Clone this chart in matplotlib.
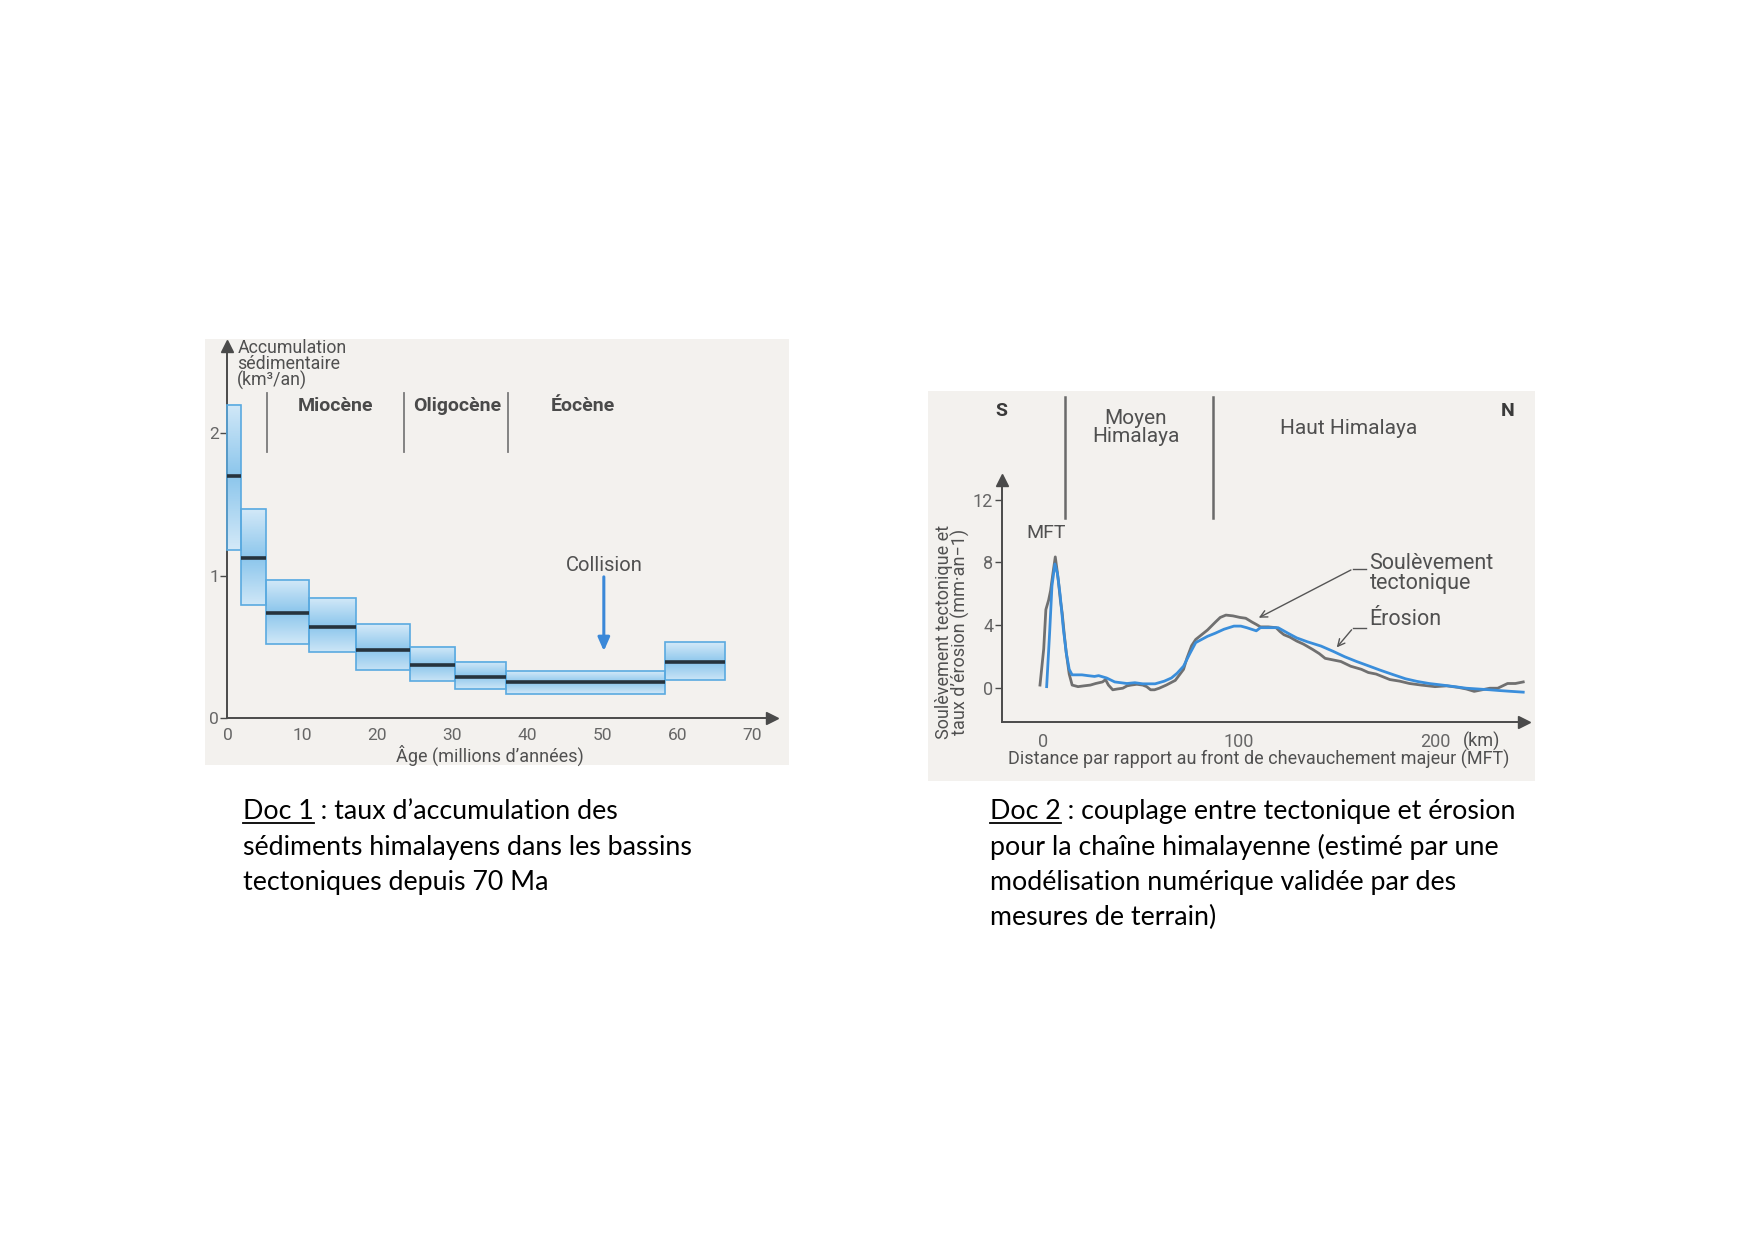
import numpy as np
import matplotlib
matplotlib.use("Agg")
import matplotlib.pyplot as plt
from matplotlib.colors import LinearSegmentedColormap
from matplotlib.lines import Line2D

# ---- Doc 1 : sediment accumulation (Ma, km3/an) ----
age_start = [0.0, 1.8, 5.1, 10.9, 17.1, 24.3, 30.4, 37.2, 58.4]
age_end   = [1.8, 5.1, 10.9, 17.1, 24.3, 30.4, 37.2, 58.4, 66.3]
acc_low   = [1.18, 0.79, 0.52, 0.46, 0.34, 0.26, 0.20, 0.17, 0.27]
acc_mean  = [1.70, 1.12, 0.74, 0.64, 0.48, 0.37, 0.29, 0.25, 0.39]
acc_high  = [2.20, 1.47, 0.97, 0.84, 0.66, 0.50, 0.39, 0.33, 0.53]
epoch_bounds = [5.3, 23.6, 37.4]
epoch_names = ["Miocène", "Oligocène", "Éocène"]
epoch_label_x = [14.4, 30.7, 47.4]
collision_age = 50.2

# ---- Doc 2 : uplift / erosion profile (km, mm/an) ----
uplift_km = [-1.4, 0.5, 1.6, 3.0, 4.0, 5.2, 6.4, 7.2, 8.0, 9.0, 9.9, 11.0, 12.0,
             13.5, 15.0, 18.0, 21.0, 24.3, 27.0, 30.5, 32.0, 33.5, 35.7, 38.0,
             40.8, 43.0, 45.0, 48.0, 51.0, 53.0, 55.0, 57.0, 59.4, 63.0, 67.6,
             71.8, 73.5, 75.9, 78.0, 80.0, 84.0, 88.0, 90.5, 93.4, 97.0, 100.6,
             103.5, 106.8, 109.0, 111.0, 115.0, 119.0, 121.0, 123.0, 126.0, 129.5,
             133.0, 137.7, 141.0, 144.0, 148.0, 152.0, 157.0, 162.5, 166.0, 170.0,
             177.0, 182.0, 187.0, 193.0, 200.0, 206.0, 212.0, 216.0, 220.0, 224.0,
             228.0, 232.0, 237.0, 241.0, 245.0]
uplift_val = [0.2, 2.5, 5.0, 5.6, 6.2, 7.3, 8.35, 7.6, 6.8, 5.6, 4.8, 3.4, 2.25,
              0.9, 0.2, 0.1, 0.15, 0.2, 0.3, 0.4, 0.55, 0.2, -0.1, -0.05,
              0.0, 0.15, 0.2, 0.25, 0.2, 0.1, -0.1, -0.1, 0.0, 0.2, 0.5,
              1.2, 1.9, 2.7, 3.1, 3.3, 3.7, 4.2, 4.5, 4.65, 4.6, 4.5,
              4.45, 4.2, 4.05, 3.9, 3.9, 3.85, 3.6, 3.4, 3.25, 3.0,
              2.8, 2.46, 2.2, 1.9, 1.8, 1.7, 1.4, 1.2, 1.0, 0.9,
              0.55, 0.45, 0.3, 0.2, 0.1, 0.15, 0.05, -0.05, -0.2, -0.1,
              0.0, 0.0, 0.3, 0.3, 0.4]
erosion_km = [2.0, 3.5, 4.7, 6.2, 7.5, 8.9, 10.5, 12.0, 13.5, 15.0, 20.0, 23.0,
              26.4, 28.5, 32.6, 36.7, 42.9, 47.0, 51.0, 57.3, 62.0, 65.6, 68.5,
              71.8, 75.0, 78.0, 84.0, 88.0, 92.4, 97.5, 101.0, 104.0, 108.9,
              111.0, 120.0, 125.0, 129.5, 135.0, 141.9, 148.0, 154.0, 160.0,
              166.6, 172.0, 179.0, 185.0, 191.0, 197.0, 203.7, 210.0, 216.0,
              222.0, 228.0, 233.0, 238.8, 245.0]
erosion_val = [0.1, 3.5, 6.5, 7.9, 7.3, 5.9, 3.8, 2.25, 1.2, 0.85, 0.85, 0.8,
               0.75, 0.8, 0.65, 0.4, 0.3, 0.35, 0.28, 0.28, 0.45, 0.65, 0.95,
               1.4, 2.2, 2.9, 3.3, 3.5, 3.75, 3.95, 3.95, 3.85, 3.65,
               3.85, 3.85, 3.5, 3.2, 2.95, 2.68, 2.35, 2.0, 1.7,
               1.4, 1.15, 0.85, 0.6, 0.43, 0.3, 0.2, 0.1, 0.0,
               -0.05, -0.1, -0.15, -0.2, -0.25]
zone_bounds = [11.5, 86.6]

W, H = 1754, 1240
fig = plt.figure(figsize=(W / 100, H / 100), dpi=100)
fig.patch.set_facecolor("white")

chart_font = ["Roboto", "DejaVu Sans"]
caption_font = ["Lato", "DejaVu Sans"]
panel_bg = "#f3f1ee"
axis_col = "#4a4a4a"
text_col = "#505050"
tick_col = "#666666"

#%% Doc 1 ---------------------------------------------------------------------
ax1 = fig.add_axes([205 / W, 1 - 765 / H, 584 / W, 426 / H])
ax1.set_facecolor(panel_bg)
cmap = LinearSegmentedColormap.from_list("bl", ["#d3e9f8", "#8cc6ec"])
for x0, x1, lo, mu, hi in zip(age_start, age_end, acc_low, acc_mean, acc_high):
    yy = np.linspace(lo, hi, 60)
    half = max(mu - lo, hi - mu)
    grad = 1 - np.abs(yy - mu) / half
    ax1.imshow(grad[:, None], extent=(x0, x1, lo, hi), origin="lower",
               aspect="auto", cmap=cmap, vmin=0, vmax=1, zorder=2)
    ax1.add_patch(plt.Rectangle((x0, lo), x1 - x0, hi - lo, fill=False,
                                edgecolor="#5aaae0", lw=1.2, zorder=3))
    ax1.plot([x0, x1], [mu, mu], color="#26333d", lw=2.6, zorder=4,
             solid_capstyle="butt")

for xb in epoch_bounds:
    ax1.plot([xb, xb], [1.87, 2.28], color="#7a7a7a", lw=1.3)
for name, xl in zip(epoch_names, epoch_label_x):
    ax1.text(xl, 2.19, name, ha="center", va="center", fontsize=14,
             fontweight="bold", color="#4a4a4a", family=chart_font)

ax1.text(collision_age, 1.07, "Collision", ha="center", va="center",
         fontsize=14.5, color=text_col, family=chart_font)
ax1.annotate("", xy=(collision_age, 0.45), xytext=(collision_age, 1.01),
             arrowprops=dict(arrowstyle="-|>,head_width=0.35,head_length=0.8",
                             color="#3a88d8", lw=2.2))

ax1.text(1.3, 2.66, "Accumulation\nsédimentaire\n(km³/an)", ha="left", va="top",
         fontsize=12.8, color=text_col, family=chart_font, linespacing=0.85)
ax1.text(35, -0.26, "Âge (millions d’années)", ha="center", va="center",
         fontsize=13, color=text_col, family=chart_font)

ax1.set_xlim(-3.0, 74.9)
ax1.set_ylim(-0.33, 2.66)
for s in ["top", "right"]:
    ax1.spines[s].set_visible(False)
ax1.spines["left"].set_position(("data", 0))
ax1.spines["bottom"].set_position(("data", 0))
ax1.spines["left"].set_bounds(0, 2.6)
ax1.spines["bottom"].set_bounds(0, 72.5)
for s in ["left", "bottom"]:
    ax1.spines[s].set_color(axis_col)
    ax1.spines[s].set_linewidth(1.4)
ax1.plot([0], [2.61], marker="^", ms=8, color=axis_col, clip_on=False)
ax1.plot([72.6], [0], marker=">", ms=8, color=axis_col, clip_on=False)
ax1.set_xticks(np.arange(0, 71, 10))
ax1.set_yticks([0, 1, 2])
ax1.tick_params(axis="x", length=0, pad=7, labelsize=12.5, labelcolor=tick_col)
ax1.tick_params(axis="y", length=5, width=1, color=axis_col, pad=1,
                labelsize=12.5, labelcolor=tick_col)
for lab in ax1.get_xticklabels() + ax1.get_yticklabels():
    lab.set_family(chart_font)

#%% Doc 2 ---------------------------------------------------------------------
ax2 = fig.add_axes([928 / W, 1 - 781 / H, 607 / W, 390 / H])
ax2.set_facecolor(panel_bg)
ax2.plot(uplift_km, uplift_val, color="#707070", lw=2.0, zorder=3)
ax2.plot(erosion_km, erosion_val, color="#3a8edb", lw=2.0, zorder=4)

for xb in zone_bounds:
    ax2.plot([xb, xb], [10.8, 18.5], color="#6a6a6a", lw=1.8)
ax2.text(-21, 17.6, "S", ha="center", va="center", fontsize=14,
         fontweight="bold", color="#3a3a3a", family=chart_font)
ax2.text(237, 17.6, "N", ha="center", va="center", fontsize=14,
         fontweight="bold", color="#3a3a3a", family=chart_font)
ax2.text(47.5, 16.6, "Moyen\nHimalaya", ha="center", va="center", fontsize=15,
         color=text_col, family=chart_font, linespacing=0.95)
ax2.text(156, 16.5, "Haut Himalaya", ha="center", va="center", fontsize=15,
         color=text_col, family=chart_font)
ax2.text(1.6, 9.85, "MFT", ha="center", va="center", fontsize=14,
         color=text_col, family=chart_font)

ax2.text(166.6, 7.3, "Soulèvement\ntectonique", ha="left", va="center",
         fontsize=15.5, color=text_col, family=chart_font, linespacing=0.95)
ax2.plot([165, 158.4], [7.6, 7.6], color="#555555", lw=1)
ax2.annotate("", xy=(108.9, 4.4), xytext=(158.4, 7.6),
             arrowprops=dict(arrowstyle="->,head_width=0.25,head_length=0.5",
                             color="#555555", lw=1))
ax2.text(166.6, 4.4, "Érosion", ha="left", va="center", fontsize=15.5,
         color=text_col, family=chart_font)
ax2.plot([165, 158.4], [3.85, 3.85], color="#555555", lw=1)
ax2.annotate("", xy=(149, 2.46), xytext=(158.4, 3.85),
             arrowprops=dict(arrowstyle="->,head_width=0.25,head_length=0.5",
                             color="#555555", lw=1))

ax2.text(-46, 3.6, "Soulèvement tectonique et\ntaux d’érosion (mm·an−1)",
         rotation=90, ha="center", va="center", fontsize=13, color=text_col,
         family=chart_font, linespacing=0.85)
ax2.text(110, -4.55, "Distance par rapport au front de chevauchement majeur (MFT)",
         ha="center", va="center", fontsize=13, color=text_col, family=chart_font)
ax2.text(224, -3.4, "(km)", ha="center", va="center", fontsize=13,
         color=text_col, family=chart_font)

ax2.set_xlim(-58.5, 251)
ax2.set_ylim(-5.9, 18.9)
for s in ["top", "right"]:
    ax2.spines[s].set_visible(False)
ax2.spines["left"].set_position(("data", -21))
ax2.spines["bottom"].set_position(("data", -2.14))
ax2.spines["left"].set_bounds(-2.14, 13.2)
ax2.spines["bottom"].set_bounds(-21, 245)
for s in ["left", "bottom"]:
    ax2.spines[s].set_color(axis_col)
    ax2.spines[s].set_linewidth(1.4)
ax2.plot([-21], [13.25], marker="^", ms=8, color=axis_col, clip_on=False)
ax2.plot([245.5], [-2.14], marker=">", ms=8, color=axis_col, clip_on=False)
ax2.set_xticks([0, 100, 200])
ax2.set_yticks([0, 4, 8, 12])
ax2.tick_params(axis="x", length=0, pad=8, labelsize=13, labelcolor=tick_col)
ax2.tick_params(axis="y", length=5, width=1, color=axis_col, pad=1,
                labelsize=13, labelcolor=tick_col)
for lab in ax2.get_xticklabels() + ax2.get_yticklabels():
    lab.set_family(chart_font)

#%% captions -------------------------------------------------------------------
cap1 = ["Doc 1 : taux d’accumulation des",
        "sédiments himalayens dans les bassins",
        "tectoniques depuis 70 Ma"]
cap2 = ["Doc 2 : couplage entre tectonique et érosion",
        "pour la chaîne himalayenne (estimé par une",
        "modélisation numérique validée par des",
        "mesures de terrain)"]

renderer = fig.canvas.get_renderer()


def caption(lines, x_px, y0_px, tag):
    for i, line in enumerate(lines):
        y = 1 - (y0_px + i * 35.5) / H
        fig.text(x_px / W, y, line, ha="left", va="baseline", fontsize=19.3,
                 color="black", family=caption_font)
    probe = fig.text(x_px / W, 1 - y0_px / H, tag, ha="left", va="baseline",
                     fontsize=19.3, family=caption_font)
    bb = probe.get_window_extent(renderer)
    probe.remove()
    yl = 1 - (y0_px + 4) / H
    fig.add_artist(Line2D([bb.x0 / W, bb.x1 / W], [yl, yl], color="black", lw=1.3,
                          transform=fig.transFigure))


caption(cap1, 243, 819, "Doc 1")
caption(cap2, 990, 819, "Doc 2")

fig.savefig("out.png", dpi=100, facecolor="white")
